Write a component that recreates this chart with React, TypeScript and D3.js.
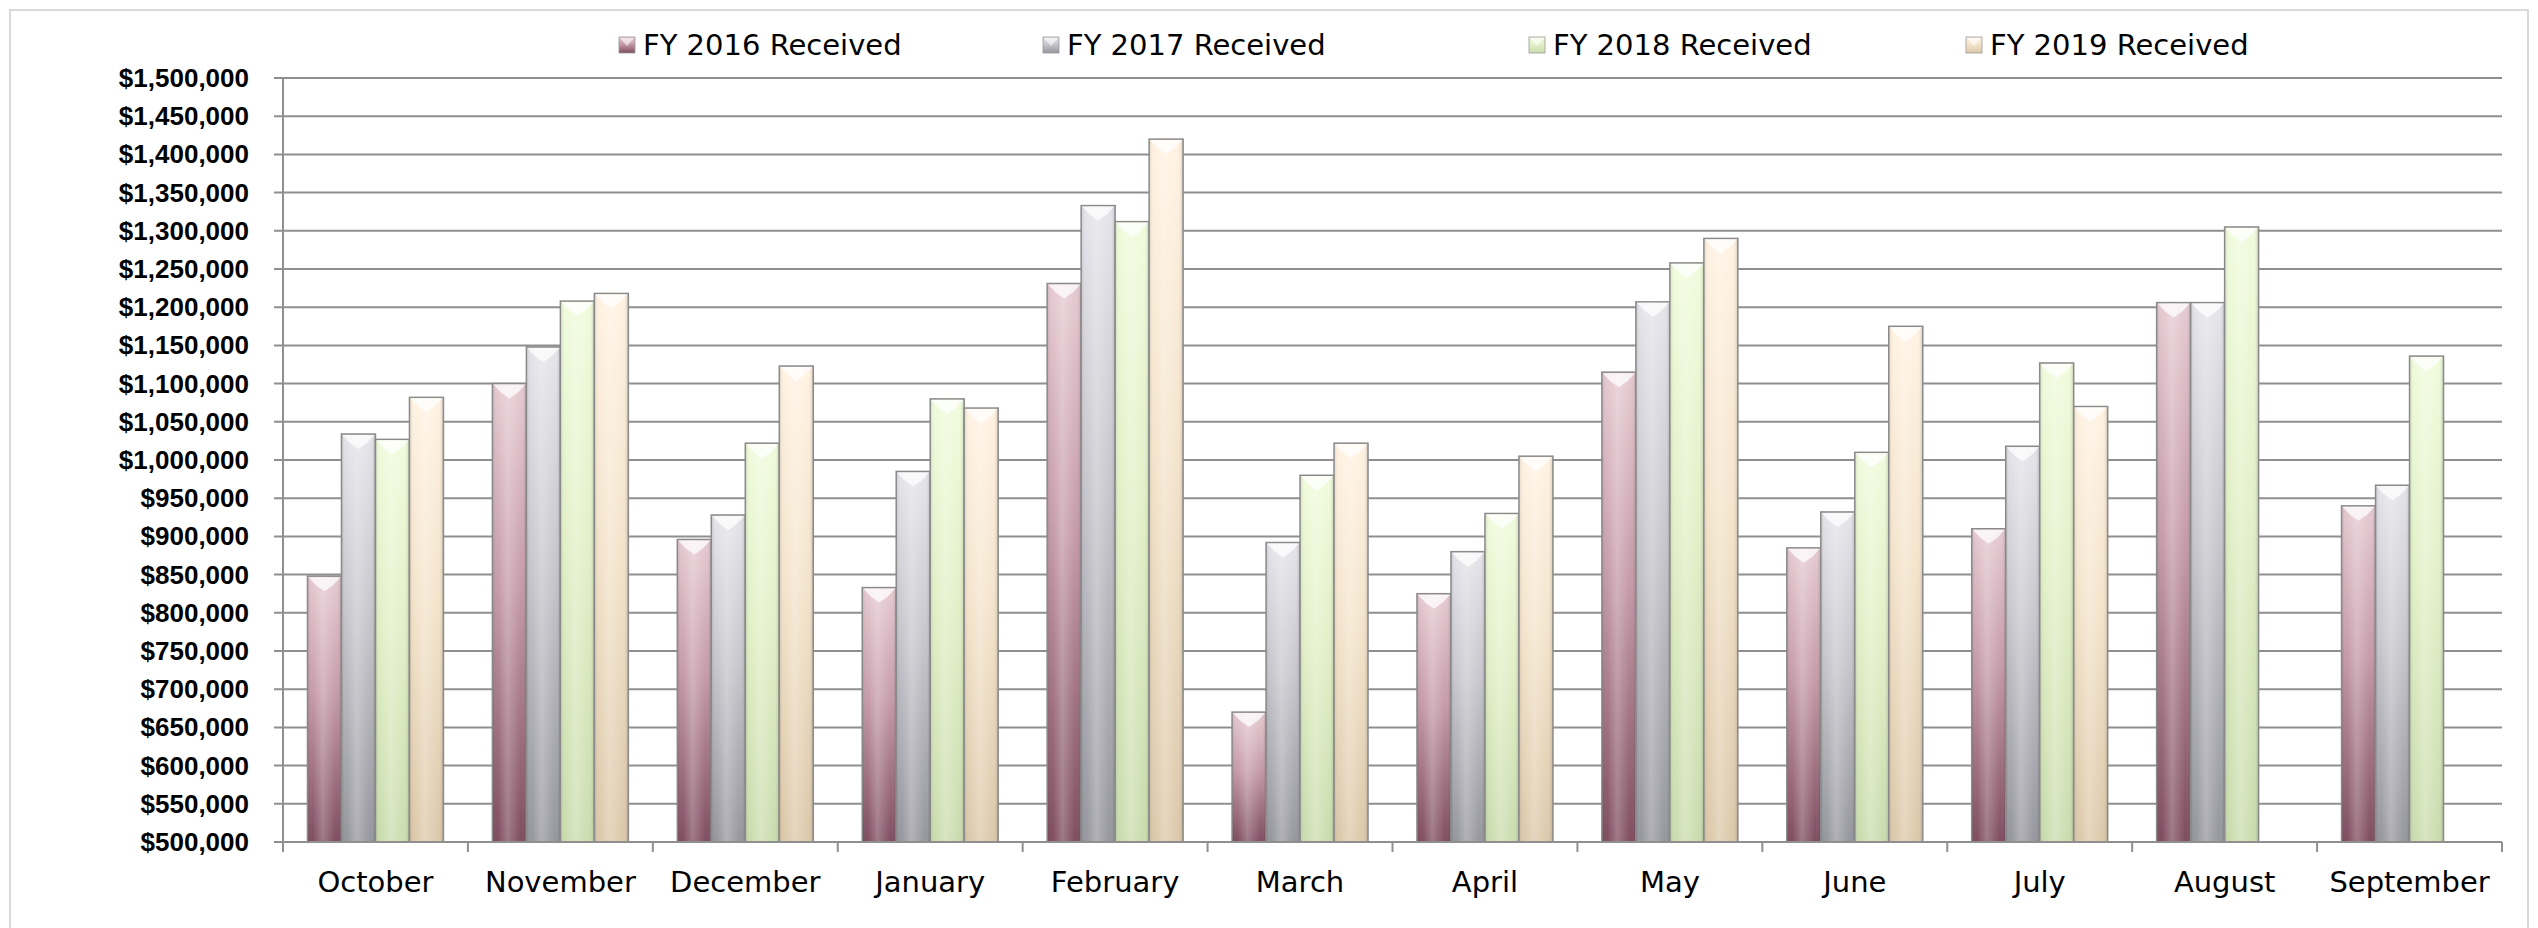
import React from 'react';
import * as d3 from 'd3';

const months = [
  'October', 'November', 'December', 'January', 'February', 'March',
  'April', 'May', 'June', 'July', 'August', 'September',
];
const seriesNames = ['FY 2016 Received', 'FY 2017 Received', 'FY 2018 Received', 'FY 2019 Received'];

const fy2016 = [848000, 1100000, 896000, 833000, 1231000, 670000, 825000, 1115000, 885000, 910000, 1206000, 940000];
const fy2017 = [1034000, 1148000, 928000, 985000, 1333000, 892000, 880000, 1207000, 932000, 1018000, 1206000, 967000];
const fy2018 = [1027000, 1208000, 1022000, 1080000, 1312000, 980000, 930000, 1258000, 1010000, 1127000, 1305000, 1136000];
const fy2019 = [1082000, 1218000, 1123000, 1068000, 1420000, 1022000, 1005000, 1290000, 1175000, 1070000, null, null];

const yTicks = d3.range(500000, 1500001, 50000);

// gradient stops per series: top, middle, bottom
const palette = [
  ['#e6cad2', '#c59aa8', '#7e4c5e'],
  ['#e4e4ea', '#c6c6cc', '#96969e'],
  ['#f0fbdc', '#e2f0c8', '#cadcae'],
  ['#fff2e2', '#f4e4cc', '#dcc8aa'],
];

const W = 2538;
const H = 928;
const plot = { left: 283, right: 2502, top: 78, bottom: 842 };
const legendX = [627, 1051, 1537, 1974];
const font = "'DejaVu Sans', Verdana, sans-serif";

export default function App() {
  const allSeries = [fy2016, fy2017, fy2018, fy2019];

  const x0 = d3.scaleBand<string>().domain(months).range([plot.left, plot.right]);
  const x1 = d3.scaleBand<number>()
    .domain(d3.range(seriesNames.length))
    .range([0, x0.bandwidth()])
    .paddingInner(0)
    .paddingOuter(0.72);
  const y = d3.scaleLinear().domain([500000, 1500000]).range([plot.bottom, plot.top]);
  const fmt = d3.format('$,');

  const grid = '#8f8f8f';
  const bw = x1.bandwidth();

  return (
    <svg
      width={W}
      height={H}
      style={{ position: 'absolute', left: 0, top: 0, background: '#fff' }}
    >
      <defs>
        {palette.map((c, i) => (
          <linearGradient key={i} id={`g${i}`} x1="0" y1="0" x2="0" y2="1">
            <stop offset="0%" stopColor={c[0]} />
            <stop offset="45%" stopColor={c[1]} />
            <stop offset="100%" stopColor={c[2]} />
          </linearGradient>
        ))}
        <linearGradient id="sheen" x1="0" y1="0" x2="1" y2="0">
          <stop offset="0%" stopColor="#000" stopOpacity={0.12} />
          <stop offset="15%" stopColor="#fff" stopOpacity={0.0} />
          <stop offset="45%" stopColor="#fff" stopOpacity={0.25} />
          <stop offset="85%" stopColor="#fff" stopOpacity={0.0} />
          <stop offset="100%" stopColor="#000" stopOpacity={0.18} />
        </linearGradient>
      </defs>

      <rect x={10} y={10} width={2518} height={940} fill="none" stroke="#d9d9d9" strokeWidth={2} />

      {/* legend */}
      {seriesNames.map((name, i) => (
        <g key={name} transform={`translate(${legendX[i]},45)`}>
          <rect x={-8} y={-8} width={16} height={16} fill={`url(#g${i})`} stroke="#999" strokeWidth={0.8} />
          <path d="M-7,-7 L7,-7 L0,1 Z" fill="#fff" opacity={0.6} />
          <text x={16} y={10} fontFamily={font} fontSize={29} fill="#000">
            {name}
          </text>
        </g>
      ))}

      {/* gridlines and y axis */}
      {yTicks.map((t) => (
        <g key={t}>
          <line x1={plot.left - 9} x2={plot.right} y1={y(t)} y2={y(t)} stroke={grid} strokeWidth={2} />
          <text
            x={249}
            y={y(t) + 9}
            textAnchor="end"
            fontFamily="'Liberation Sans', Arial, sans-serif"
            fontWeight="bold"
            fontSize={26}
            fill="#000"
          >
            {fmt(t)}
          </text>
        </g>
      ))}
      <line x1={plot.left} x2={plot.left} y1={plot.top} y2={plot.bottom} stroke={grid} strokeWidth={2} />

      {/* x axis ticks */}
      {months.map((m) => (
        <line
          key={m}
          x1={x0(m)!}
          x2={x0(m)!}
          y1={plot.bottom}
          y2={plot.bottom + 10}
          stroke={grid}
          strokeWidth={2}
        />
      ))}
      <line x1={plot.right} x2={plot.right} y1={plot.bottom} y2={plot.bottom + 10} stroke={grid} strokeWidth={2} />

      {/* bars */}
      {months.map((m, mi) => (
        <g key={m} transform={`translate(${x0(m)},0)`}>
          {allSeries.map((s, si) => {
            const v = s[mi];
            if (v == null) return null;
            const bx = x1(si)!;
            const by = y(v);
            const bh = plot.bottom - by;
            return (
              <g key={si}>
                <rect x={bx} y={by} width={bw} height={bh} fill={`url(#g${si})`} />
                <rect x={bx} y={by} width={bw} height={bh} fill="url(#sheen)" stroke="#8a8a8a" strokeWidth={1.5} />
                <path
                  d={`M${bx + 1},${by + 1} L${bx + bw - 1},${by + 1} L${bx + bw * 0.75},${by + 9} L${bx + bw / 2},${by + 15} L${bx + bw * 0.25},${by + 9} Z`}
                  fill="#fff"
                  opacity={0.75}
                />
              </g>
            );
          })}
        </g>
      ))}
      <line x1={plot.left} x2={plot.right} y1={plot.bottom} y2={plot.bottom} stroke={grid} strokeWidth={2} />

      {/* x labels */}
      {months.map((m) => (
        <text
          key={m}
          x={x0(m)! + x0.bandwidth() / 2}
          y={892}
          textAnchor="middle"
          fontFamily={font}
          fontSize={29}
          fill="#000"
        >
          {m}
        </text>
      ))}
    </svg>
  );
}
